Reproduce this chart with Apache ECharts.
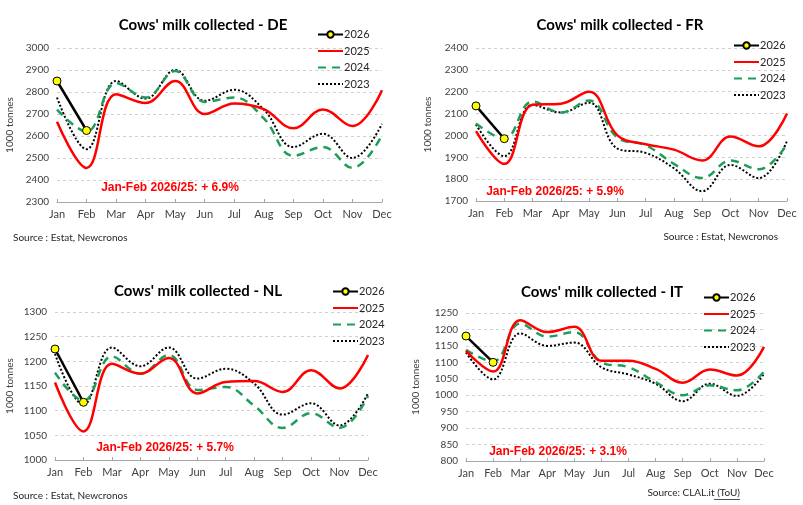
<!DOCTYPE html>
<html>
<head>
<meta charset="utf-8">
<script src="https://cdn.jsdelivr.net/npm/echarts@6/dist/echarts.min.js"></script>
<style>
  html, body { margin: 0; padding: 0; background: #fff; }
  #main { width: 803px; height: 505px; }
</style>
</head>
<body>
<div id="main"></div>
<script>
// Datos
var months = ['Jan', 'Feb', 'Mar', 'Apr', 'May', 'Jun', 'Jul', 'Aug', 'Sep', 'Oct', 'Nov', 'Dec'];
var years = ['2026', '2025', '2024', '2023'];

var de2026 = [2850, 2625];
var de2025 = [2665, 2455, 2790, 2750, 2850, 2700, 2748, 2722, 2635, 2720, 2645, 2808];
var de2024 = [2720, 2620, 2840, 2775, 2895, 2755, 2775, 2680, 2510, 2550, 2455, 2605];
var de2023 = [2775, 2540, 2850, 2770, 2900, 2760, 2810, 2720, 2550, 2610, 2500, 2655];

var fr2026 = [2135, 1985];
var fr2025 = [2020, 1870, 2140, 2145, 2200, 2000, 1960, 1935, 1885, 1995, 1950, 2100];
var fr2024 = [2055, 1985, 2155, 2105, 2160, 1990, 1955, 1870, 1805, 1885, 1845, 1960];
var fr2023 = [2050, 1905, 2140, 2105, 2150, 1940, 1920, 1850, 1745, 1865, 1805, 1975];

var nl2026 = [1225, 1117];
var nl2025 = [1157, 1058, 1195, 1175, 1207, 1135, 1158, 1160, 1138, 1182, 1145, 1213];
var nl2024 = [1177, 1120, 1210, 1175, 1213, 1142, 1148, 1110, 1065, 1095, 1065, 1130];
var nl2023 = [1215, 1112, 1228, 1190, 1228, 1165, 1185, 1155, 1092, 1115, 1070, 1135];

var it2026 = [1180, 1100];
var it2025 = [1135, 1072, 1228, 1192, 1208, 1105, 1105, 1080, 1038, 1078, 1060, 1147];
var it2024 = [1138, 1102, 1218, 1178, 1192, 1100, 1085, 1040, 1000, 1030, 1015, 1072];
var it2023 = [1130, 1048, 1188, 1150, 1160, 1085, 1063, 1035, 982, 1035, 998, 1065];

var titles = ["Cows' milk collected - DE", "Cows' milk collected - FR", "Cows' milk collected - NL", "Cows' milk collected - IT"];
var notes = ['Jan-Feb 2026/25: + 6.9%', 'Jan-Feb 2026/25: + 5.9%', 'Jan-Feb 2026/25: + 5.7%', 'Jan-Feb 2026/25: + 3.1%'];
var yMin = [2300, 1700, 1000, 800];
var yMax = [3000, 2400, 1300, 1250];
var yStep = [100, 100, 50, 50];

var allData = [
    [de2026, de2025, de2024, de2023],
    [fr2026, fr2025, fr2024, fr2023],
    [nl2026, nl2025, nl2024, nl2023],
    [it2026, it2025, it2024, it2023]
];

// Posicion de cada panel (area de trazado)
var grids = [
    { left: 57, right: 421, top: 48, bottom: 303 },
    { left: 476, right: 16, top: 48, bottom: 304 },
    { left: 55, right: 435, top: 312, bottom: 45 },
    { left: 466, right: 39, top: 313, bottom: 44 }
];
var legendPos = [
    { left: 317, top: 27 },
    { left: 733, top: 38 },
    { left: 332, top: 284 },
    { left: 703, top: 290 }
];
var nameGaps = [42, 43, 40, 45];
var titlePos = [[203, 25], [620, 25], [198, 291], [602, 292]];
var notePos = [[170, 188], [555, 192], [165, 448], [558, 452]];

var fontMain = 'Lato, "Open Sans", sans-serif';
var green = '#1d9e58';

// Leyenda: solo 2026 lleva marcador
var legendData = [
    { name: '2026' },
    { name: '2025', itemStyle: { opacity: 0 } },
    { name: '2024', itemStyle: { opacity: 0 } },
    { name: '2023', itemStyle: { opacity: 0 } }
];

var xAxes = [], yAxes = [], series = [], legends = [], graphics = [];

for (var i = 0; i < 4; i++) {
    xAxes.push({
        gridIndex: i,
        type: 'category',
        boundaryGap: false,
        data: months,
        axisLine: { lineStyle: { color: '#a6a6a6', width: 1 } },
        axisTick: { inside: true, length: 3, interval: 0, lineStyle: { color: '#a6a6a6' } },
        axisLabel: { color: '#404040', fontSize: 11, margin: 7, interval: 0, fontFamily: fontMain },
        splitLine: { show: false }
    });
    yAxes.push({
        gridIndex: i,
        type: 'value',
        min: yMin[i],
        max: yMax[i],
        interval: yStep[i],
        name: '1000 tonnes',
        nameLocation: 'middle',
        nameRotate: 90,
        nameGap: nameGaps[i],
        nameTextStyle: { color: '#404040', fontSize: 10, fontFamily: fontMain },
        axisLine: { show: false },
        axisTick: { show: false },
        axisLabel: { color: '#404040', fontSize: 10, margin: 8, fontFamily: fontMain, formatter: function (v) { return String(v); } },
        splitLine: { lineStyle: { color: '#d0d0d0', type: [3, 3], width: 1 } }
    });
    var d = allData[i];
    series.push({
        name: '2026', type: 'line', xAxisIndex: i, yAxisIndex: i, data: d[0],
        symbol: 'circle', symbolSize: 8, z: 5,
        itemStyle: { color: '#ffff00', borderColor: '#000', borderWidth: 1 },
        lineStyle: { color: '#000', width: 2.5 }
    });
    series.push({
        name: '2025', type: 'line', xAxisIndex: i, yAxisIndex: i, data: d[1],
        symbol: 'none', smooth: 0.4, z: 4,
        itemStyle: { color: '#ff0000' },
        lineStyle: { color: '#ff0000', width: 2.5 }
    });
    series.push({
        name: '2024', type: 'line', xAxisIndex: i, yAxisIndex: i, data: d[2],
        symbol: 'none', smooth: 0.4, z: 3,
        itemStyle: { color: green },
        lineStyle: { color: green, width: 2.5, type: [8, 6] }
    });
    series.push({
        name: '2023', type: 'line', xAxisIndex: i, yAxisIndex: i, data: d[3],
        symbol: 'none', smooth: 0.4, z: 2,
        itemStyle: { color: '#000' },
        lineStyle: { color: '#000', width: 2, type: [2, 2] }
    });
    legends.push({
        data: legendData,
        orient: 'vertical',
        left: legendPos[i].left,
        top: legendPos[i].top + 2,
        itemWidth: 25,
        itemHeight: 8,
        itemGap: 5.5,
        padding: 0,
        selectedMode: false,
        textStyle: { color: '#262626', fontSize: 11, fontFamily: fontMain, padding: [0, 0, 0, -4] }
    });
    graphics.push({
        type: 'text', x: titlePos[i][0], y: titlePos[i][1],
        style: {
            text: titles[i], fill: '#000', font: 'bold 15px ' + fontMain,
            textAlign: 'center', textVerticalAlign: 'middle'
        }
    });
    graphics.push({
        type: 'text', x: notePos[i][0], y: notePos[i][1],
        style: {
            text: notes[i], fill: '#ff0000', font: 'bold 12px "Liberation Sans", Arial, sans-serif',
            textAlign: 'center', textVerticalAlign: 'middle'
        }
    });
}

// Fuentes de datos
var srcFont = '10px ' + fontMain;
graphics.push({ type: 'text', x: 13, y: 238, style: { text: 'Source : Estat, Newcronos', fill: '#262626', font: srcFont, textVerticalAlign: 'middle' } });
graphics.push({ type: 'text', x: 778, y: 237, style: { text: 'Source : Estat, Newcronos', fill: '#262626', font: srcFont, textAlign: 'right', textVerticalAlign: 'middle' } });
graphics.push({ type: 'text', x: 13, y: 496, style: { text: 'Source : Estat, Newcronos', fill: '#262626', font: srcFont, textVerticalAlign: 'middle' } });
graphics.push({ type: 'text', x: 740, y: 493, style: { text: 'Source: CLAL.it (ToU)', fill: '#262626', font: srcFont, textAlign: 'right', textVerticalAlign: 'middle' } });
graphics.push({ type: 'rect', shape: { x: 714, y: 499, width: 26, height: 0.8 }, style: { fill: '#262626' } });

var grafico = echarts.init(document.getElementById('main'));
var option = {
    animation: false,
    backgroundColor: '#fff',
    grid: grids,
    xAxis: xAxes,
    yAxis: yAxes,
    legend: legends,
    series: series,
    graphic: graphics
};
grafico.setOption(option);
</script>
</body>
</html>
